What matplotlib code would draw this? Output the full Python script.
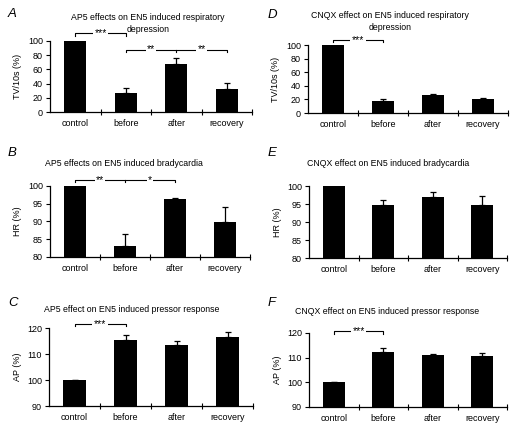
import numpy as np
import matplotlib
matplotlib.use("Agg")
import matplotlib.pyplot as plt

plt.rcParams['font.family'] = ['Liberation Sans', 'DejaVu Sans']

categories = ["control", "before", "after", "recovery"]

# panel values (% of control) and upper error
ap5_tv = [100, 27, 67, 32]
ap5_tv_err = [0, 7, 9, 9]
ap5_hr = [100, 83, 96.2, 89.9]
ap5_hr_err = [0, 3.5, 0.5, 4.1]
ap5_ap = [100, 115.5, 113.6, 116.7]
ap5_ap_err = [0, 1.9, 1.4, 1.8]
cnqx_tv = [100, 18, 27, 21]
cnqx_tv_err = [0, 2, 1.4, 0.5]
cnqx_hr = [100, 94.7, 96.9, 94.6]
cnqx_hr_err = [0, 1.4, 1.3, 2.6]
cnqx_ap = [100, 112.2, 111.1, 110.7]
cnqx_ap_err = [0, 1.6, 0.3, 1.1]

titles = {
    "A": ["AP5 effects on EN5 induced respiratory", "depression"],
    "B": ["AP5 effects on EN5 induced bradycardia"],
    "C": ["AP5 effect on EN5 induced pressor response"],
    "D": ["CNQX effect on EN5 induced respiratory", "depression"],
    "E": ["CNQX effect on EN5 induced bradycardia"],
    "F": ["CNQX effect on EN5 induced pressor response"],
}

W, H = 520, 438


def px_axes(l, r, t, b):
    return [l / W, 1 - b / H, (r - l) / W, (b - t) / H]


panels = [
    # key, values, errors, ylabel, ylim, yticks, axes box (px), title x, title y, letter y
    ("A", ap5_tv, ap5_tv_err, "TV/10s (%)", (0, 100), np.arange(0, 101, 20), (50, 252, 41, 112), 148, 17, 14),
    ("B", ap5_hr, ap5_hr_err, "HR (%)", (80, 100), np.arange(80, 101, 5), (50, 250, 186, 257), 124, 164, 153),
    ("C", ap5_ap, ap5_ap_err, "AP (%)", (90, 120), np.arange(90, 121, 10), (49, 253, 328, 406), 132, 309, 303),
    ("D", cnqx_tv, cnqx_tv_err, "TV/10s (%)", (0, 100), np.arange(0, 101, 20), (308, 508, 45, 113), 390, 15, 15),
    ("E", cnqx_hr, cnqx_hr_err, "HR (%)", (80, 100), np.arange(80, 101, 5), (309, 507, 186, 258), 388, 164, 153),
    ("F", cnqx_ap, cnqx_ap_err, "AP (%)", (90, 120), np.arange(90, 121, 10), (309, 507, 333, 407), 387, 312, 303),
]

# significance brackets: (x0, x1, y, middle ticks, [(x, label), ...])
brackets = {
    "A": [(0, 1, 111, [], [(0.5, "***")]),
          (1, 3, 88, [2], [(1.5, "**"), (2.5, "**")])],
    "B": [(0, 2, 101.8, [1], [(0.5, "**"), (1.5, "*")])],
    "C": [(0, 1, 121.7, [], [(0.5, "***")])],
    "D": [(0, 1, 107.8, [], [(0.5, "***")])],
    "F": [(0, 1, 120.7, [], [(0.5, "***")])],
}

fig = plt.figure(figsize=(W / 100, H / 100), dpi=100)

for key, vals, errs, ylabel, ylim, yticks, box, tx, ty, ly in panels:
    ax = fig.add_axes(px_axes(*box))
    x = np.arange(len(categories))
    ax.bar(x, vals, width=0.44, color="black")
    ax.errorbar(x, vals, yerr=[np.zeros(len(errs)), errs], fmt="none",
                ecolor="black", elinewidth=0.9, capsize=2.5, capthick=0.9)
    ax.set_xlim(-0.5, 3.5)
    ax.set_ylim(*ylim)
    ax.set_yticks(yticks)
    ax.set_xticks(x)
    ax.set_xticklabels(categories, fontsize=6.5)
    ax.set_xticks(np.arange(0.5, 4, 1), minor=True)
    ax.tick_params(axis="x", which="major", length=0, pad=5)
    ax.tick_params(axis="x", which="minor", length=4, direction="inout", width=0.8)
    ax.tick_params(axis="y", labelsize=6.5, length=3, width=0.8, pad=2)
    for s in ("top", "right"):
        ax.spines[s].set_visible(False)
    for s in ("left", "bottom"):
        ax.spines[s].set_linewidth(0.9)
    ax.set_ylabel(ylabel, fontsize=6.5, labelpad=4)

    for i, line in enumerate(titles[key]):
        fig.text(tx / W, 1 - (ty + 12 * i) / H, line, fontsize=6.3,
                 ha="center", va="center")
    lx = 8 if box[0] < 200 else 268
    fig.text(lx / W, 1 - ly / H, key, fontsize=9.5, style="italic",
             ha="left", va="center")

    span = ylim[1] - ylim[0]
    tick = 0.035 * span
    for x0, x1, y, mids, labels in brackets.get(key, []):
        ax.plot([x0, x0, x1, x1], [y - tick, y, y, y - tick], color="black",
                lw=0.8, clip_on=False)
        for m in mids:
            ax.plot([m, m], [y, y - tick], color="black", lw=0.8, clip_on=False)
        for lxp, lab in labels:
            ax.text(lxp, y, lab, fontsize=7.5, ha="center", va="center",
                    bbox=dict(facecolor="white", edgecolor="none", pad=1.0),
                    clip_on=False)

fig.savefig("out.png", dpi=100)
